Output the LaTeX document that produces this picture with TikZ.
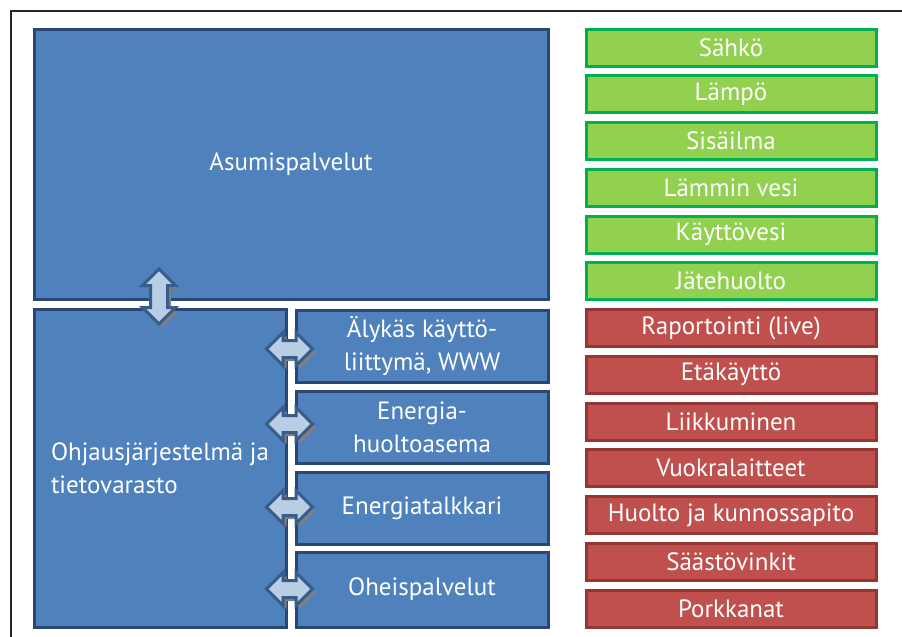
\documentclass[tikz,border=0pt]{standalone}
\usepackage{fontspec}
\setmainfont{PT Sans}
\usetikzlibrary{shapes.arrows,shadows}

\definecolor{boxblue}{RGB}{79,129,189}
\definecolor{lineblue}{RGB}{40,72,115}
\definecolor{boxgreen}{RGB}{146,208,80}
\definecolor{linegreen}{RGB}{0,176,80}
\definecolor{boxred}{RGB}{192,80,77}
\definecolor{linered}{RGB}{150,54,52}
\definecolor{arrowfill}{RGB}{185,205,229}
\definecolor{arrowline}{RGB}{56,93,138}

\tikzset{
  basebox/.style={rectangle, anchor=north west, inner sep=0pt, text=white,
    line width=3pt, font=\fontsize{25}{33}\selectfont, align=center},
  bluebox/.style={basebox, draw=lineblue, fill=boxblue},
  greenbox/.style={basebox, draw=linegreen, fill=boxgreen},
  redbox/.style={basebox, draw=linered, fill=boxred},
  link/.style={double arrow, draw=arrowline, fill=arrowfill, line width=3pt,
    inner xsep=0pt, inner ysep=7pt, minimum height=46pt, minimum width=31pt,
    double arrow head extend=8pt,
    drop shadow={shadow xshift=3.5pt, shadow yshift=-3.5pt, fill=gray, opacity=1}}
}

\begin{document}
\begin{tikzpicture}[x=1pt,y=-1pt]
\useasboundingbox (0,0) rectangle (902,637);

% frame
\draw[line width=1.5pt, black!85] (11,637) -- (11,11) -- (902,11);

% left part
\node[bluebox, minimum width=514pt, minimum height=270pt] (asumis) at (32.5,27.5) {Asumispalvelut};
\node[bluebox, minimum width=252pt, minimum height=318pt, align=left] (ohjaus) at (32.5,307.5)
  {Ohjausjärjestelmä ja\\tietovarasto};

\node[bluebox, minimum width=252pt, minimum height=72pt] (alykas) at (294.5,308.5) {Älykäs käyttö-\\liittymä, WWW};
\node[bluebox, minimum width=252pt, minimum height=72pt] (asema) at (294.5,389.5) {Energia-\\huoltoasema};
\node[bluebox, minimum width=252pt, minimum height=72pt] (talkkari) at (294.5,470.5) {Energiatalkkari};
\node[bluebox, minimum width=252pt, minimum height=75pt] (oheis) at (294.5,550.5) {Oheispalvelut};

% arrows
\node[link, shape border rotate=90, inner xsep=7pt, inner ysep=0pt,
  minimum height=55pt, minimum width=30pt] (a0) at (159,296.5) {};
\node[link] (a1) at (289.5,349) {};
\node[link] (a2) at (289.5,424) {};
\node[link] (a3) at (289.5,507) {};
\node[link] (a4) at (289.5,589) {};

% right column
\foreach \t [count=\i] in {Sähkö,Lämpö,Sisäilma,Lämmin vesi,Käyttövesi,Jätehuolto}{
  \node[greenbox, minimum width=290pt, minimum height=37pt] (svc\i) at (584.5,{27.5+(\i-1)*46.75}) {\t};
}
\foreach \t [count=\i from 7] in {Raportointi (live),Etäkäyttö,Liikkuminen,Vuokralaitteet,Huolto ja kunnossapito,Säästövinkit,Porkkanat}{
  \node[redbox, minimum width=290pt, minimum height=37pt] (svc\i) at (584.5,{27.5+(\i-1)*46.75}) {\t};
}

\end{tikzpicture}
\end{document}
